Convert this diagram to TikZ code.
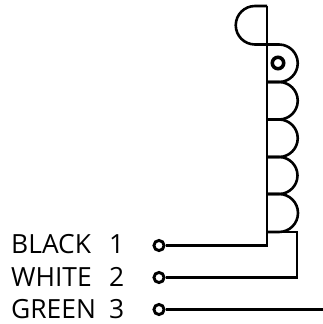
\documentclass[tikz,border=0pt]{standalone}
\usepackage{fontspec}
\setmainfont{Open Sans}
\tikzset{
  wire/.style={line width=2.9pt,line cap=butt,line join=miter},
  coil/.style={line width=2.6pt},
  term/.style={circle,draw,line width=2.9pt,inner sep=0pt,minimum size=10.2pt,fill=white},
  lab/.style={anchor=base west,inner sep=0pt,font=\fontsize{26.5}{27}\selectfont},
}
\newcommand{\labrow}[2]{\makebox[98bp][l]{#1}#2}
\begin{document}
\begin{tikzpicture}[x=1bp,y=1bp]
\useasboundingbox (0,0) rectangle (323,324);
\coordinate (top) at (267,318);
\coordinate (b0) at (267,279.5);
\coordinate (b1) at (267,242);
\coordinate (b2) at (267,204.5);
\coordinate (b3) at (267,167);
\coordinate (b4) at (267,130);
\coordinate (b5) at (267,92);
\coordinate (base) at (267,79);
\coordinate (boxr) at (297,92);
\coordinate (boxb) at (297,47);
\coordinate (end) at (323,14.5);
% half circle and spine
\draw[wire] (top) -- (base);
\draw[coil] (top) -- (255,318) arc[start angle=90,end angle=270,radius=19.25] -- (b0);
% coil bumps
\foreach \a/\b/\r in {b0/b1/18.75,b1/b2/18.75,b2/b3/18.75,b3/b4/18.5,b4/b5/19}{
  \draw[coil] (\a) -- ++(12,0) arc[start angle=90,end angle=-90,radius=\r] -- (\b);
}
\node[circle,draw,line width=3.5pt,inner sep=0pt,minimum size=11.5pt] (dot) at (278,261) {};
% terminals
\node[term] (t1) at (159,78.5) {};
\node[term] (t2) at (159,46.5) {};
\node[term] (t3) at (159,14.5) {};
\draw[wire] (t1) -- (t1 -| base) -- (base);
\draw[wire] (t2) -- (t2 -| boxb) -- (boxr) -- (b5);
\draw[wire] (t3) -- (t3 -| end);
% labels
\node[lab] (l1) at (11,71) {\labrow{BLACK}{1}};
\node[lab] (l2) at (11,38) {\labrow{WHITE}{2}};
\node[lab] (l3) at (11,5.5) {\labrow{GREEN}{3}};
\end{tikzpicture}
\end{document}
